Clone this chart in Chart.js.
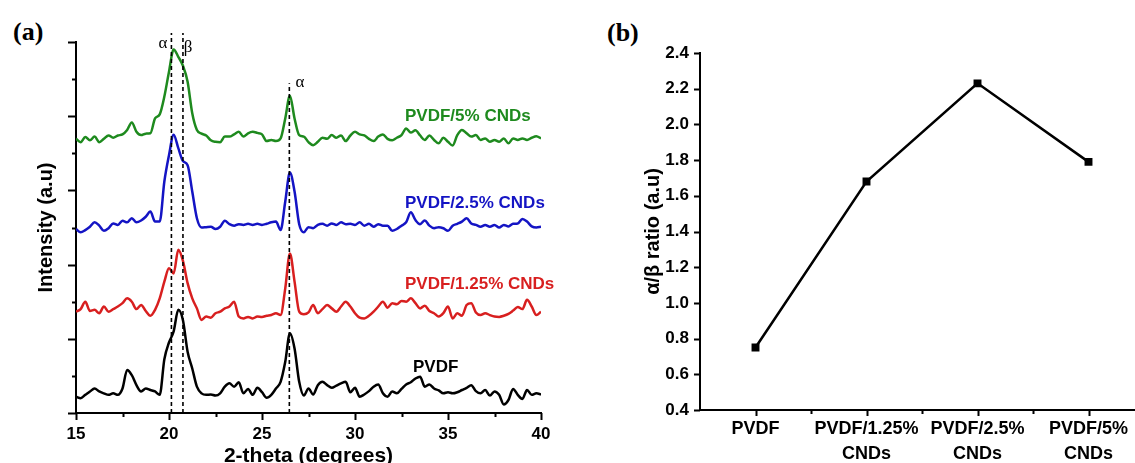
<!DOCTYPE html>
<html>
<head>
<meta charset="utf-8">
<script src="https://cdn.jsdelivr.net/npm/chart.js@4.4.1/dist/chart.umd.min.js"></script>
<style>
  html, body { margin: 0; padding: 0; background: #fff; overflow: hidden; }
  body { width: 1135px; height: 463px; position: relative; }
  canvas { position: absolute; top: 0; }
  #xrd { left: 0; }
  #ratio { left: 580px; }
  .tag { position: absolute; font: bold 26px "Liberation Serif", "Times New Roman", serif; line-height: 30px; }
</style>
</head>
<body>
<div class="tag" style="left:13px; top:17px;">(a)</div>
<div class="tag" style="left:607px; top:18px;">(b)</div>
<canvas id="xrd" width="575" height="480"></canvas>
<canvas id="ratio" width="620" height="480"></canvas>
<script>
// 2-theta grid (degrees)
const twoTheta = [
  15, 15.25, 15.5, 15.75, 16, 16.25, 16.5, 16.75, 17, 17.25, 17.5, 17.75, 18, 18.25, 18.5, 18.75,
  19, 19.25, 19.5, 19.75, 20, 20.25, 20.5, 20.75, 21, 21.25, 21.5, 21.75, 22, 22.25, 22.5, 22.75,
  23, 23.25, 23.5, 23.75, 24, 24.25, 24.5, 24.75, 25, 25.25, 25.5, 25.75, 26, 26.25, 26.5, 26.75,
  27, 27.25, 27.5, 27.75, 28, 28.25, 28.5, 28.75, 29, 29.25, 29.5, 29.75, 30, 30.25, 30.5, 30.75,
  31, 31.25, 31.5, 31.75, 32, 32.25, 32.5, 32.75, 33, 33.25, 33.5, 33.75, 34, 34.25, 34.5, 34.75,
  35, 35.25, 35.5, 35.75, 36, 36.25, 36.5, 36.75, 37, 37.25, 37.5, 37.75, 38, 38.25, 38.5, 38.75,
  39, 39.25, 39.5, 39.75, 40
];

// stacked intensities (a.u.)
const pvdf = [
  4.4, 4.0, 4.9, 5.8, 6.6, 5.8, 5.3, 4.9, 5.3, 4.9, 6.6, 11.6, 10.2, 7.5, 5.8, 6.6,
  6.2, 5.8, 4.9, 14.5, 19.0, 22.0, 27.8, 25.0, 16.5, 12.0, 7.1, 5.3, 4.9, 5.0, 4.7, 5.3,
  7.1, 8.0, 7.1, 8.3, 5.3, 6.5, 4.9, 6.8, 5.6, 4.1, 4.9, 6.6, 8.4, 13.8, 21.5, 17.4,
  8.4, 4.7, 6.6, 5.0, 7.5, 8.4, 7.5, 6.8, 7.4, 8.0, 8.4, 5.6, 6.8, 4.4, 5.0, 5.9,
  7.1, 7.7, 5.3, 4.4, 5.8, 5.3, 6.5, 7.7, 8.3, 9.3, 9.8, 7.1, 7.7, 6.6, 6.1, 5.3,
  5.6, 5.3, 5.6, 6.2, 6.8, 7.5, 5.9, 5.3, 6.2, 4.7, 5.8, 4.9, 2.3, 3.5, 6.5, 4.9,
  3.8, 6.2, 4.9, 5.3, 5.0
];
const cnd125 = [
  27.3, 28.0, 30.0, 27.5, 27.8, 26.9, 28.7, 27.3, 28.0, 28.7, 29.6, 30.9, 30.0, 28.0, 29.1, 27.5,
  26.2, 27.8, 30.9, 35.4, 39.0, 37.6, 44.0, 41.0, 35.0, 30.9, 28.2, 25.1, 26.0, 25.7, 26.9, 27.3,
  28.2, 28.7, 30.0, 26.0, 25.5, 25.9, 25.5, 26.0, 25.9, 26.2, 26.4, 26.9, 26.4, 33.6, 43.0, 35.4,
  27.3, 26.6, 27.1, 29.1, 26.9, 28.0, 29.1, 28.2, 27.3, 28.7, 30.0, 28.7, 26.9, 25.7, 25.5, 26.2,
  27.3, 28.7, 30.0, 28.4, 29.6, 29.3, 30.2, 30.0, 30.9, 29.6, 28.2, 28.9, 27.5, 26.9, 26.0, 26.9,
  28.7, 25.5, 26.9, 26.2, 29.1, 29.6, 27.1, 26.4, 26.9, 26.4, 26.0, 25.9, 26.2, 26.7, 27.6, 28.6,
  28.0, 30.5, 28.7, 26.4, 27.3
];
const cnd25 = [
  49.6, 48.7, 49.3, 50.2, 51.4, 50.5, 49.1, 49.8, 51.1, 50.7, 51.8, 51.4, 52.5, 51.4, 51.9, 52.9,
  54.3, 51.6, 51.6, 62.4, 69.5, 75.0, 71.4, 67.9, 66.8, 59.7, 52.5, 50.0, 50.1, 50.2, 49.6, 50.2,
  51.8, 50.9, 50.5, 50.9, 50.7, 51.0, 50.7, 51.0, 50.7, 51.0, 51.4, 51.6, 49.3, 57.0, 64.8, 59.7,
  50.9, 48.7, 50.1, 49.8, 50.7, 51.0, 50.5, 51.1, 50.7, 51.4, 50.9, 51.0, 50.7, 51.4, 50.5, 51.0,
  50.2, 50.9, 50.5, 50.5, 49.1, 49.6, 50.5, 51.4, 54.1, 52.0, 50.9, 51.9, 50.5, 49.8, 50.1, 49.8,
  49.1, 50.5, 51.0, 51.6, 52.5, 51.1, 50.7, 50.2, 50.7, 50.2, 50.7, 50.0, 50.7, 50.3, 51.0, 51.1,
  52.3, 51.6, 50.3, 50.0, 50.2
];
const cnd5 = [
  73.9, 73.0, 74.4, 73.5, 74.5, 73.0, 73.9, 74.8, 74.2, 74.8, 75.1, 76.3, 78.3, 75.8, 74.9, 75.3,
  75.4, 79.4, 80.5, 85.3, 92.0, 98.0, 96.0, 93.6, 89.3, 80.8, 76.3, 75.3, 74.8, 73.5, 73.1, 73.0,
  74.5, 74.5, 75.1, 75.8, 74.5, 75.4, 75.8, 75.5, 75.1, 73.3, 73.6, 73.3, 74.0, 79.4, 85.5, 79.4,
  74.9, 74.5, 73.0, 72.2, 73.1, 74.2, 73.9, 74.9, 74.2, 74.8, 73.3, 74.8, 75.8, 75.1, 74.8, 73.9,
  73.3, 74.5, 75.1, 73.9, 73.5, 74.2, 74.9, 76.7, 75.6, 76.2, 74.8, 73.6, 74.8, 73.6, 72.7, 74.2,
  73.1, 72.1, 74.9, 76.3, 75.4, 74.5, 74.9, 73.6, 74.0, 73.1, 73.6, 73.1, 74.0, 72.7, 74.0, 73.6,
  74.0, 73.6, 74.2, 74.6, 74.0
];

// peak markers
const peakPos = [20.13, 20.75, 26.47];
const peakTop = [102.4, 102.4, 88.9];
const peakNames = ['α', 'β', 'α'];

// panel (b)
const samples = ['PVDF', ['PVDF/1.25%', 'CNDs'], ['PVDF/2.5%', 'CNDs'], ['PVDF/5%', 'CNDs']];
const ratio = [0.75, 1.68, 2.23, 1.79];

Chart.defaults.font.family = '"Liberation Sans", Arial, sans-serif';
Chart.defaults.color = '#000';

const toXY = ys => twoTheta.map((t, i) => ({ x: t, y: ys[i] }));

// small tick marks on the axes, drawn from the scales
const axisTicks = {
  id: 'axisTicks',
  afterDraw(chart, args, opts) {
    const { ctx, scales: { x, y } } = chart;
    ctx.save();
    ctx.strokeStyle = '#000';
    ctx.lineWidth = opts.width;
    ctx.beginPath();
    opts.x.forEach(([v, len]) => {
      const px = Math.round(x.getPixelForValue(v)) + 0.5;
      ctx.moveTo(px, x.top);
      ctx.lineTo(px, x.top + len);
    });
    opts.y.forEach(([v, len]) => {
      const py = Math.round(y.getPixelForValue(v)) + 0.5;
      ctx.moveTo(y.right, py);
      ctx.lineTo(y.right - len, py);
    });
    ctx.stroke();
    ctx.restore();
  }
};

const textLabels = {
  id: 'textLabels',
  afterDatasetsDraw(chart, args, opts) {
    const { ctx, scales: { x, y } } = chart;
    ctx.save();
    ctx.textBaseline = 'middle';
    opts.items.forEach(it => {
      ctx.font = it.font;
      ctx.fillStyle = it.color;
      ctx.textAlign = it.align || 'left';
      ctx.fillText(it.text, x.getPixelForValue(it.x), y.getPixelForValue(it.y));
    });
    ctx.restore();
  }
};

const xTicksA = [];
for (let v = 15; v <= 40; v += 2.5) xTicksA.push([v, v % 5 === 0 ? 7 : 4]);
const yTicksA = [];
for (let v = 0; v <= 100; v += 10) yTicksA.push([v, v % 20 === 0 ? 8 : 4]);

const lbl = 'bold 17px "Liberation Sans", Arial, sans-serif';
const greek = '17px "Liberation Serif", "Times New Roman", serif';

const peakSets = peakPos.map((p, i) => ({
  data: [{ x: p, y: 0 }, { x: p, y: peakTop[i] }],
  borderColor: '#000',
  borderWidth: 1.6,
  borderDash: [4, 3],
  pointRadius: 0,
  clip: false
}));

const trace = (ys, color) => ({
  data: toXY(ys),
  borderColor: color,
  borderWidth: 2.5,
  pointRadius: 0,
  cubicInterpolationMode: 'monotone',
  borderJoinStyle: 'round'
});

new Chart(document.getElementById('xrd'), {
  type: 'line',
  data: {
    datasets: [
      ...peakSets,
      trace(cnd5, '#1e8a1e'),
      trace(cnd25, '#1414c4'),
      trace(cnd125, '#d81f1f'),
      trace(pvdf, '#000000')
    ]
  },
  options: {
    responsive: false,
    animation: false,
    layout: { padding: { top: 42, right: 34, left: 0, bottom: 0 } },
    plugins: {
      legend: { display: false },
      tooltip: { enabled: false },
      axisTicks: { width: 2, x: xTicksA, y: yTicksA },
      textLabels: {
        items: [
          { text: 'PVDF/5% CNDs', x: 32.69, y: 80.1, color: '#1e8a1e', font: lbl },
          { text: 'PVDF/2.5% CNDs', x: 32.69, y: 56.6, color: '#1414c4', font: lbl },
          { text: 'PVDF/1.25% CNDs', x: 32.69, y: 34.8, color: '#d81f1f', font: lbl },
          { text: 'PVDF', x: 33.12, y: 12.4, color: '#000', font: lbl },
          { text: peakNames[0], x: 19.68, y: 99.7, color: '#000', font: greek, align: 'center' },
          { text: peakNames[1], x: 21.02, y: 98.4, color: '#000', font: greek, align: 'center' },
          { text: peakNames[2], x: 27.04, y: 89.2, color: '#000', font: greek, align: 'center' }
        ]
      }
    },
    scales: {
      x: {
        type: 'linear',
        min: 15,
        max: 40,
        ticks: { stepSize: 5, padding: 11, font: { size: 17, weight: 'bold' } },
        grid: { display: false, drawTicks: false },
        border: { display: true, color: '#000', width: 2 },
        title: {
          display: true,
          text: '2-theta (degrees)',
          font: { size: 21, weight: 'bold' },
          padding: { top: 0, bottom: 11 }
        },
        afterFit: s => { s.height = 67; }
      },
      y: {
        min: 0,
        max: 100,
        ticks: { display: false },
        grid: { display: false, drawTicks: false },
        border: { display: true, color: '#000', width: 2 },
        title: {
          display: true,
          text: 'Intensity (a.u)',
          font: { size: 20, weight: 'bold' },
          padding: { top: 34, bottom: 0 }
        },
        afterFit: s => { s.width = 76; }
      }
    }
  },
  plugins: [axisTicks, textLabels]
});

const xTicksB = [];
for (let i = 0; i < samples.length; i++) {
  xTicksB.push([i, 6]);
  xTicksB.push([i + 0.5, 4]);
}
const yTicksB = [];
for (let i = 0; i <= 10; i++) yTicksB.push([0.4 + i * 0.2, 6]);

new Chart(document.getElementById('ratio'), {
  type: 'line',
  data: {
    labels: samples,
    datasets: [{
      data: ratio,
      borderColor: '#000',
      borderWidth: 2.5,
      pointStyle: 'rect',
      pointRadius: 5.6,
      pointBackgroundColor: '#000',
      pointBorderWidth: 0,
      tension: 0
    }]
  },
  options: {
    responsive: false,
    animation: false,
    layout: { padding: { top: 53, right: 56, left: 0, bottom: 0 } },
    plugins: {
      legend: { display: false },
      tooltip: { enabled: false },
      axisTicks: { width: 2, x: xTicksB, y: yTicksB }
    },
    scales: {
      x: {
        type: 'category',
        offset: true,
        ticks: {
          autoSkip: false,
          maxRotation: 0,
          padding: 7,
          font: { size: 18, weight: 'bold', lineHeight: 1.38 }
        },
        grid: { display: false, drawTicks: false },
        border: { display: true, color: '#000', width: 2 },
        afterFit: s => { s.height = 70; }
      },
      y: {
        min: 0.4,
        max: 2.4,
        ticks: {
          stepSize: 0.2,
          padding: 11,
          font: { size: 17, weight: 'bold' },
          callback: v => v.toFixed(1)
        },
        grid: { display: false, drawTicks: false },
        border: { display: true, color: '#000', width: 2 },
        title: {
          display: true,
          text: 'α/β ratio (a.u)',
          font: { size: 20, weight: 'bold' },
          padding: { top: 61, bottom: 0 }
        },
        afterFit: s => { s.width = 120; }
      }
    }
  },
  plugins: [axisTicks]
});
</script>
</body>
</html>
